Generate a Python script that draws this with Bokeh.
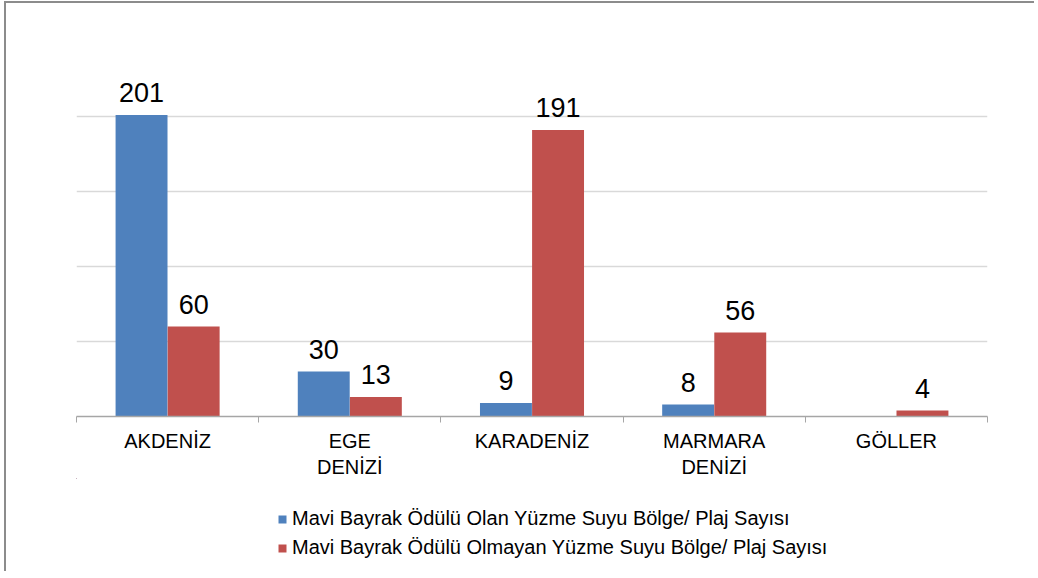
from bokeh.plotting import figure
from bokeh.layouts import column
from bokeh.models import (ColumnDataSource, Range1d, LinearAxis,
                          FixedTicker, Legend, LegendItem, LabelSet, Grid)
from bokeh.core.properties import value
from bokeh.transform import dodge
from bokeh.embed import file_html
from bokeh.resources import INLINE

# ---- data ----
categories = ["AKDENİZ", "EGE\nDENİZİ", "KARADENİZ", "MARMARA\nDENİZİ", "GÖLLER"]
awarded = [201, 30, 9, 8, 0]
not_awarded = [60, 13, 191, 56, 4]
series_names = ["Mavi Bayrak Ödülü Olan Yüzme Suyu Bölge/ Plaj Sayısı",
                "Mavi Bayrak Ödülü Olmayan Yüzme Suyu Bölge/ Plaj Sayısı"]
y_ticks = [0, 50, 100, 150, 200, 250]

BLUE = "#4F81BD"
RED = "#C0504D"
FONT = "Liberation Sans"
BORDER = "2px solid #8C8C8C"

n = len(categories)
centers = [i + 0.5 for i in range(n)]

p = figure(x_range=Range1d(0, n),
           y_range=Range1d(0, 250),
           width=1030, height=477,
           output_backend="svg", toolbar_location=None,
           x_axis_location=None, y_axis_location=None,
           min_border_left=70, min_border_right=49,
           min_border_top=38, min_border_bottom=64)
p.outline_line_color = None
p.grid.visible = False
p.background_fill_color = "white"
p.border_fill_color = "white"
p.styles = {"border-top": BORDER, "border-left": BORDER,
            "margin-left": "4px", "margin-top": "1px"}

p.add_layout(Grid(dimension=1, ticker=FixedTicker(ticks=y_ticks),
                  grid_line_color="#D9D9D9", grid_line_width=1.5))

# tick axis at category boundaries
tick_axis = LinearAxis(ticker=FixedTicker(ticks=list(range(n + 1))),
                       major_tick_out=6, major_tick_in=0,
                       minor_tick_line_color=None,
                       major_label_text_font_size="0px",
                       major_label_text_color=None,
                       major_label_standoff=0,
                       axis_line_color="#A6A6A6", major_tick_line_color="#A6A6A6",
                       axis_line_width=1.5)
p.add_layout(tick_axis, "below")

# category label axis
cat_axis = LinearAxis(ticker=FixedTicker(ticks=centers),
                      major_label_overrides={c: lab for c, lab in zip(centers, categories)},
                      major_tick_line_color=None, minor_tick_line_color=None,
                      axis_line_color=None,
                      major_label_text_font=FONT,
                      major_label_text_font_size="20px",
                      major_label_text_color="black",
                      major_label_standoff=1)
p.add_layout(cat_axis, "below")

src = ColumnDataSource(dict(x=centers, awarded=awarded, not_awarded=not_awarded))
p.vbar(x=dodge("x", -0.143), top="awarded", width=0.285,
       fill_color=BLUE, line_color=None, source=src)
p.vbar(x=dodge("x", 0.143), top="not_awarded", width=0.285,
       fill_color=RED, line_color=None, source=src)

src_a = ColumnDataSource(dict(
    x=[c for c, v in zip(centers, awarded) if v > 0],
    val=[v for v in awarded if v > 0],
    txt=[str(v) for v in awarded if v > 0]))
src_b = ColumnDataSource(dict(
    x=[c for c, v in zip(centers, not_awarded) if v > 0],
    val=[v for v in not_awarded if v > 0],
    txt=[str(v) for v in not_awarded if v > 0]))

for s, off in ((src_a, -0.143), (src_b, 0.143)):
    p.add_layout(LabelSet(x=dodge("x", off), y="val", text="txt",
                          source=s, text_align="center", text_baseline="alphabetic",
                          y_offset=13, text_font=value(FONT), text_font_size=value("27px"),
                          text_color="black"))

# ---- legend strip below the chart (its frame is aligned with the chart's frame) ----
pl = figure(x_range=Range1d(1000, 1005), y_range=Range1d(-2000, -1999),
            width=1030, height=93,
            output_backend="svg", toolbar_location=None,
            x_axis_location=None, y_axis_location=None,
            min_border_left=0, min_border_right=0,
            min_border_top=0, min_border_bottom=0)
pl.outline_line_color = None
pl.grid.visible = False
pl.styles = {"border-left": BORDER, "margin-left": "4px"}
# legend proxies: same series, lying entirely outside this strip's visible ranges
d1 = pl.vbar(x=dodge("x", -0.143), top="awarded", width=0.285,
             fill_color=BLUE, line_color=None, source=src)
d2 = pl.vbar(x=dodge("x", 0.143), top="not_awarded", width=0.285,
             fill_color=RED, line_color=None, source=src)

legend = Legend(items=[LegendItem(label=series_names[0], renderers=[d1]),
                       LegendItem(label=series_names[1], renderers=[d2])],
                location=(201, 12),
                glyph_width=10, glyph_height=10, label_standoff=5,
                label_text_font=FONT, label_text_font_size="20px",
                label_text_color="black", spacing=6, padding=0, margin=0,
                border_line_color=None, background_fill_alpha=0)
pl.add_layout(legend, "center")

layout = column(p, pl, spacing=0)
open("out.html", "w").write(file_html(layout, INLINE))
